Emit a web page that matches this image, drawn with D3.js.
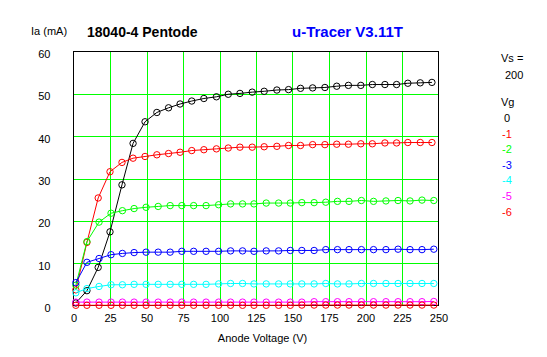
<!DOCTYPE html>
<html><head><meta charset="utf-8">
<script src="https://cdn.jsdelivr.net/npm/d3@7"></script>
<style>
html,body{margin:0;padding:0;background:#fff;}
svg{display:block;font-family:"Liberation Sans",Arial,sans-serif;}
</style></head>
<body>
<svg id="chart" width="547" height="357"></svg>
<script>
// ---- data ----
const xTicks = [0, 25, 50, 75, 100, 125, 150, 175, 200, 225, 250];
const yTicks = [0, 10, 20, 30, 40, 50, 60];
const vgLabels = ["0", "-1", "-2", "-3", "-4", "-5", "-6"];
const seriesColors = ["#000000", "#ff0000", "#00ff00", "#0000ff", "#00ffff", "#ff00ff", "#ff0000"];
// anode voltages actually reached (high-current and low-current sweeps)
const vaHi = [1.6, 9.2, 16.9, 25, 33.2, 40.8, 49, 57.1, 65.1, 73, 81, 89.3, 97.9, 106, 114, 122.4, 130.6, 139.3, 147.3, 155.5, 163.8, 172.2, 180.3, 188.3, 196.8, 204.7, 213.3, 221.3, 229, 237.5, 245.5];
const vaLo = [1.6, 9.2, 17.5, 25.7, 33.5, 41.5, 49.7, 58, 66.2, 74.2, 82.3, 90.8, 99.4, 107.6, 115.8, 123.6, 132, 140.5, 148.5, 156.4, 164.8, 172.8, 180.8, 188.7, 197.2, 205.5, 214, 222.3, 230.5, 238.7, 246.8];
const ia0 = [0.6, 3.5, 9.0, 17.4, 28.5, 38.3, 43.4, 45.6, 46.7, 47.6, 48.3, 48.9, 49.3, 49.9, 50.1, 50.4, 50.6, 50.9, 51.0, 51.3, 51.4, 51.5, 51.8, 52.0, 52.0, 52.2, 52.2, 52.2, 52.5, 52.6, 52.7];
const ia1 = [3.7, 14.9, 25.4, 31.6, 33.8, 34.8, 35.2, 35.6, 35.9, 36.2, 36.6, 36.8, 37.0, 37.2, 37.4, 37.4, 37.5, 37.6, 37.8, 37.8, 38.0, 38.0, 38.1, 38.1, 38.2, 38.2, 38.4, 38.4, 38.5, 38.5, 38.5];
const ia2 = [4.8, 15.1, 19.7, 21.8, 22.4, 22.9, 23.2, 23.4, 23.6, 23.6, 23.6, 23.6, 23.8, 24.0, 24.0, 24.0, 24.2, 24.2, 24.2, 24.3, 24.3, 24.4, 24.6, 24.6, 24.8, 24.6, 24.7, 24.8, 24.7, 24.9, 24.8];
const ia3 = [5.4, 10.2, 11.1, 12.0, 12.3, 12.5, 12.6, 12.6, 12.6, 12.8, 12.8, 12.8, 12.8, 12.9, 12.9, 12.8, 12.9, 12.9, 13.0, 13.0, 13.0, 13.2, 13.2, 13.2, 13.2, 13.2, 13.2, 13.3, 13.2, 13.2, 13.3];
const ia4 = [3.0, 4.0, 4.5, 4.9, 4.9, 5.0, 5.0, 5.0, 5.0, 5.0, 5.0, 5.0, 5.1, 5.2, 5.2, 5.1, 5.1, 5.1, 5.1, 5.1, 5.1, 5.2, 5.1, 5.1, 5.2, 5.2, 5.2, 5.2, 5.2, 5.2, 5.2];
const ia5 = [0.8, 0.8, 0.8, 0.8, 0.8, 0.8, 0.8, 0.8, 0.8, 0.8, 0.8, 0.8, 0.8, 0.8, 0.8, 0.8, 0.8, 0.8, 0.8, 0.8, 0.9, 0.9, 0.9, 0.9, 0.9, 0.9, 0.9, 0.9, 0.9, 0.9, 0.95];
const ia6 = [0.05, 0.05, 0.05, 0.05, 0.05, 0.05, 0.05, 0.05, 0.05, 0.05, 0.05, 0.05, 0.05, 0.05, 0.05, 0.05, 0.05, 0.05, 0.05, 0.1, 0.1, 0.1, 0.1, 0.1, 0.1, 0.1, 0.1, 0.1, 0.1, 0.1, 0.1];
const seriesIa = [ia0, ia1, ia2, ia3, ia4, ia5, ia6];
const seriesVa = [vaHi, vaHi, vaLo, vaLo, vaLo, vaLo, vaLo];

// ---- layout ----
const L = 73.5, R = 438.5, T = 51.5, B = 305.5;
const svg = d3.select("#chart");
const x = d3.scaleLinear().domain([0, 250]).range([L, R]);
const y = d3.scaleLinear().domain([0, 60]).range([B, T]);

// grid
const grid = svg.append("g").attr("shape-rendering", "crispEdges");
grid.selectAll("line.v").data(xTicks.slice(1, -1)).join("line")
  .attr("x1", d => Math.round(x(d)) + 0.5).attr("x2", d => Math.round(x(d)) + 0.5)
  .attr("y1", T).attr("y2", B).attr("stroke", "#00ff00");
grid.selectAll("line.h").data(yTicks.slice(1, -1)).join("line")
  .attr("y1", d => Math.round(y(d)) + 0.5).attr("y2", d => Math.round(y(d)) + 0.5)
  .attr("x1", L).attr("x2", R).attr("stroke", "#00ff00");
// frame
grid.append("rect").attr("x", L).attr("y", T).attr("width", R - L).attr("height", B - T)
  .attr("fill", "none").attr("stroke", "#000");

// axes labels
const xAxis = d3.axisBottom(x).tickValues(xTicks).tickSize(0).tickPadding(0);
const gx = svg.append("g").attr("transform", `translate(0,${B})`).call(xAxis);
gx.select(".domain").remove();
gx.selectAll("text").attr("dy", null).attr("y", 16).attr("font-size", 11)
  .attr("font-family", "Liberation Sans, Arial, sans-serif").attr("fill", "#000");

const yAxis = d3.axisLeft(y).tickValues(yTicks).tickSize(0).tickPadding(0);
const gy = svg.append("g").attr("transform", `translate(${L - 23},0)`).call(yAxis);
gy.select(".domain").remove();
gy.selectAll("text").attr("dy", null).attr("y", 6).attr("x", 0).attr("font-size", 11)
  .attr("font-family", "Liberation Sans, Arial, sans-serif").attr("fill", "#000");

svg.append("text").attr("x", 262.5).attr("y", 342).attr("text-anchor", "middle")
  .attr("font-size", 11).text("Anode Voltage (V)");
svg.append("text").attr("x", 31).attr("y", 35).attr("font-size", 11).text("Ia (mA)");
svg.append("text").attr("x", 87).attr("y", 37).attr("font-size", 14).attr("font-weight", "bold")
  .text("18040-4 Pentode");
svg.append("text").attr("x", 292).attr("y", 37).attr("font-size", 15).attr("font-weight", "bold")
  .attr("fill", "#0000ff").text("u-Tracer V3.11T");

// legend
const lg = svg.append("g").attr("font-size", 11);
lg.append("text").attr("x", 501).attr("y", 62).text("Vs =");
lg.append("text").attr("x", 505).attr("y", 79).text("200");
lg.append("text").attr("x", 501).attr("y", 106).text("Vg");
lg.selectAll("text.vg").data(vgLabels).join("text").attr("class", "vg")
  .attr("x", d => d === "0" ? 504 : 502)
  .attr("y", (d, i) => 122 + i * 15.6)
  .attr("fill", (d, i) => seriesColors[i])
  .text(d => d);

// curves
const line = d3.line().x(d => x(d[0])).y(d => y(d[1]));
const plot = svg.append("g");
seriesIa.forEach((ia, s) => {
  const pts = ia.map((v, i) => [seriesVa[s][i], v]);
  const g = plot.append("g");
  g.append("path").datum(pts).attr("d", line).attr("fill", "none")
    .attr("stroke", seriesColors[s]).attr("stroke-width", 1);
  g.selectAll("circle").data(pts).join("circle")
    .attr("cx", d => x(d[0])).attr("cy", d => y(d[1])).attr("r", 3.2)
    .attr("fill", "none").attr("stroke", seriesColors[s]).attr("stroke-width", 1);
});
</script>
</body></html>
